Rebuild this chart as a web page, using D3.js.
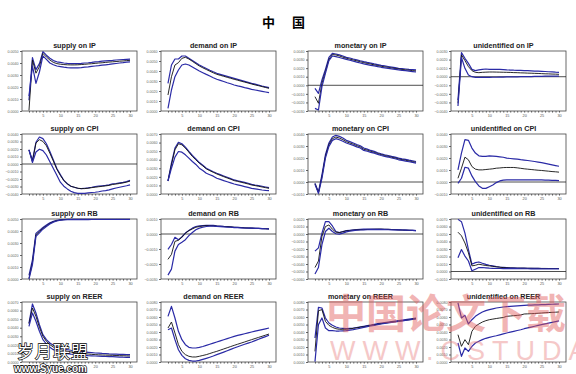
<!DOCTYPE html>
<html>
<head>
<meta charset="utf-8">
<script src="https://cdn.jsdelivr.net/npm/d3@7"></script>
<style>
  body { margin: 0; background: #fff; }
  svg { display: block; font-family: "Liberation Sans", Arial, sans-serif; }
</style>
</head>
<body>
<svg id="chart" width="576" height="374"></svg>
<script>
const periods = [1,2,3,4,5,6,7,8,9,10,11,12,13,14,15,16,17,18,19,20,21,22,23,24,25,26,27,28,29,30];
const xTickLabels = [5, 10, 15, 20, 25, 30];

const titles = [
  "supply on IP", "demand on IP", "monetary on IP", "unidentified on IP",
  "supply on CPI", "demand on CPI", "monetary on CPI", "unidentified on CPI",
  "supply on RB", "demand on RB", "monetary on RB", "unidentified on RB",
  "supply on REER", "demand on REER", "monetary on REER", "unidentified on REER"
];
// y range of each panel (response units, x10^-3) and whether it has a zero line
const yDomains = [
  [0, 5], [0, 6], [-3, 4], [-4, 3],
  [-4, 4], [0, 7], [-1, 4], [-1, 4],
  [0, 5], [-3, 1], [-6, 2], [-1, 7],
  [0, 7], [0, 8], [0, 8], [0, 8]
];
const zeroLine = [
  false, false, true, true,
  true, false, true, true,
  false, true, true, true,
  false, false, false, false
];

// impulse responses: upper band, point estimate, lower band
const ipSupplyHi  = [0.9,4.45,3.45,3.95,4.95,4.65,4.4,4.2,4.1,4.05,4.0,3.97,3.95,3.95,3.95,3.97,4.0,4.02,4.05,4.1,4.12,4.15,4.18,4.2,4.22,4.25,4.27,4.29,4.31,4.33];
const ipSupplyMid = [0.05,4.25,3.15,3.7,4.8,4.5,4.25,4.05,3.95,3.9,3.87,3.85,3.84,3.84,3.85,3.87,3.89,3.92,3.94,3.97,4.0,4.02,4.05,4.08,4.1,4.12,4.15,4.17,4.2,4.22];
const ipSupplyLo  = [1.25,3.75,2.3,3.25,4.6,4.3,4.0,3.85,3.75,3.7,3.65,3.62,3.6,3.6,3.6,3.62,3.65,3.68,3.72,3.75,3.78,3.82,3.85,3.88,3.92,3.96,4.0,4.03,4.07,4.1];

const ipDemandHi  = [2.77,4.6,5.2,5.2,5.5,5.5,5.27,5.05,4.82,4.6,4.42,4.25,4.08,3.92,3.77,3.67,3.57,3.47,3.37,3.27,3.17,3.07,2.97,2.87,2.77,2.68,2.59,2.5,2.42,2.33];
const ipDemandMid = [1.6,3.43,4.6,4.83,5.27,5.37,5.2,4.97,4.73,4.5,4.32,4.15,3.98,3.82,3.67,3.57,3.47,3.37,3.27,3.17,3.08,2.98,2.89,2.8,2.7,2.61,2.53,2.44,2.35,2.27];
const ipDemandLo  = [0.27,2.1,3.43,4.1,4.6,4.7,4.6,4.4,4.2,4.0,3.83,3.66,3.5,3.33,3.17,3.06,2.95,2.83,2.72,2.6,2.51,2.43,2.34,2.26,2.17,2.1,2.03,1.97,1.9,1.83];

const ipMonetaryHi  = [-0.35,-0.94,0.62,1.86,3.26,3.73,3.65,3.54,3.42,3.26,3.18,3.07,2.97,2.86,2.76,2.67,2.59,2.5,2.42,2.33,2.26,2.19,2.12,2.05,1.98,1.94,1.9,1.86,1.83,1.79];
const ipMonetaryMid = [-1.33,-2.1,0.23,1.59,3.03,3.58,3.54,3.42,3.28,3.15,3.05,2.95,2.85,2.74,2.64,2.55,2.47,2.38,2.3,2.21,2.15,2.09,2.02,1.96,1.9,1.85,1.8,1.76,1.71,1.67];
const ipMonetaryLo  = [-2.69,-2.88,-0.16,1.4,2.88,3.42,3.34,3.24,3.13,3.03,2.92,2.81,2.7,2.6,2.49,2.41,2.33,2.26,2.18,2.1,2.04,1.98,1.91,1.85,1.79,1.74,1.7,1.65,1.6,1.55];

const ipOtherHi  = [-2.72,2.81,2.15,1.56,0.86,0.71,0.79,0.86,0.9,0.86,0.86,0.86,0.85,0.83,0.79,0.78,0.76,0.75,0.73,0.71,0.7,0.68,0.66,0.65,0.63,0.61,0.58,0.56,0.53,0.51];
const ipOtherMid = [-3.1,2.54,1.88,1.18,0.71,0.51,0.47,0.51,0.53,0.55,0.55,0.54,0.53,0.52,0.51,0.5,0.48,0.47,0.45,0.44,0.42,0.41,0.39,0.38,0.36,0.34,0.33,0.31,0.3,0.28];
const ipOtherLo  = [-3.42,2.26,0.98,0.2,0.0,-0.07,-0.07,-0.07,-0.07,-0.07,-0.06,-0.06,-0.05,-0.04,-0.03,-0.02,-0.02,-0.01,0.0,0.0,0.01,0.02,0.03,0.04,0.05,0.06,0.06,0.07,0.07,0.08];

const cpiSupplyHi  = [1.88,0.5,2.9,3.6,3.38,2.7,1.66,0.52,-0.61,-1.42,-2.19,-2.64,-2.96,-3.1,-3.23,-3.28,-3.23,-3.18,-3.1,-3.0,-2.95,-2.9,-2.85,-2.78,-2.64,-2.6,-2.52,-2.45,-2.35,-2.19];
const cpiSupplyMid = [1.88,0.3,2.79,3.24,3.01,2.43,1.43,0.39,-0.7,-1.51,-2.19,-2.64,-2.96,-3.1,-3.23,-3.28,-3.28,-3.23,-3.15,-3.1,-3.03,-2.98,-2.92,-2.85,-2.73,-2.67,-2.6,-2.52,-2.42,-2.28];
const cpiSupplyLo  = [1.88,0.2,1.6,1.97,1.79,1.2,0.3,-0.61,-1.51,-2.42,-2.96,-3.32,-3.64,-3.82,-3.91,-3.91,-3.91,-3.85,-3.8,-3.77,-3.7,-3.6,-3.55,-3.45,-3.32,-3.2,-3.1,-3.0,-2.9,-2.78];

const cpiDemandHi  = [1.52,3.59,5.35,6.02,5.86,5.47,4.96,4.49,4.1,3.67,3.35,3.0,2.8,2.6,2.42,2.26,2.1,1.95,1.8,1.64,1.55,1.45,1.35,1.25,1.13,1.05,0.98,0.9,0.82,0.74];
const cpiDemandMid = [1.52,3.4,5.16,5.86,5.74,5.35,4.88,4.38,3.98,3.59,3.28,2.93,2.72,2.53,2.34,2.18,2.02,1.87,1.72,1.56,1.47,1.37,1.27,1.17,1.05,0.98,0.9,0.82,0.74,0.66];
const cpiDemandLo  = [1.52,3.01,4.3,4.96,4.88,4.57,4.18,3.79,3.45,3.01,2.75,2.42,2.25,2.08,1.84,1.7,1.56,1.43,1.3,1.17,1.07,0.97,0.87,0.77,0.66,0.6,0.53,0.47,0.42,0.39];

const cpiMonetaryHi  = [-0.11,-0.83,0.59,2.27,3.25,3.75,3.89,3.8,3.66,3.47,3.36,3.25,3.13,3.02,2.83,2.74,2.63,2.55,2.44,2.35,2.27,2.21,2.13,2.07,1.99,1.93,1.88,1.82,1.77,1.71];
const cpiMonetaryMid = [-0.15,-0.9,0.45,2.13,3.11,3.61,3.75,3.66,3.53,3.36,3.25,3.15,3.03,2.92,2.73,2.65,2.55,2.47,2.37,2.28,2.2,2.14,2.06,2.0,1.92,1.86,1.81,1.75,1.7,1.64];
const cpiMonetaryLo  = [-0.2,-0.95,0.31,1.99,2.97,3.47,3.61,3.52,3.4,3.25,3.15,3.05,2.93,2.83,2.63,2.56,2.47,2.4,2.3,2.21,2.14,2.08,2.0,1.94,1.85,1.8,1.74,1.69,1.63,1.57];

const cpiOtherHi  = [1.01,2.41,3.53,3.47,2.83,2.41,2.18,2.13,2.13,2.18,2.16,2.13,2.1,2.06,1.99,1.96,1.93,1.9,1.86,1.83,1.79,1.75,1.71,1.66,1.61,1.55,1.49,1.43,1.37,1.31];
const cpiOtherMid = [0.31,1.15,2.07,1.85,1.29,1.07,1.01,1.01,1.04,1.07,1.1,1.15,1.17,1.2,1.21,1.21,1.21,1.18,1.14,1.1,1.07,1.04,1.01,0.98,0.96,0.93,0.9,0.87,0.85,0.82];
const cpiOtherLo  = [-0.11,0.31,1.23,1.15,0.51,0.03,-0.33,-0.53,-0.53,-0.39,-0.25,-0.05,0.09,0.15,0.17,0.17,0.17,0.17,0.17,0.17,0.17,0.17,0.17,0.17,0.17,0.16,0.15,0.14,0.13,0.12];

const rbSupplyHi  = [0.3,1.6,3.8,4.05,4.3,4.5,4.68,4.8,4.88,4.93,4.96,4.98,4.98,4.98,4.98,4.98,4.98,4.98,4.98,4.98,4.98,4.98,4.98,4.98,4.98,4.98,4.98,4.98,4.98,4.98];
const rbSupplyMid = [0.05,1.37,3.69,3.96,4.23,4.43,4.64,4.78,4.86,4.92,4.95,4.97,4.97,4.97,4.97,4.97,4.97,4.97,4.97,4.97,4.97,4.97,4.97,4.97,4.97,4.97,4.97,4.97,4.97,4.97];
const rbSupplyLo  = [0.0,1.2,3.55,3.85,4.15,4.37,4.58,4.74,4.83,4.9,4.93,4.95,4.95,4.95,4.95,4.95,4.95,4.95,4.96,4.96,4.96,4.96,4.96,4.96,4.96,4.96,4.96,4.96,4.96,4.96];

const rbDemandHi  = [-1.03,-0.7,-0.22,-0.38,-0.2,0.06,0.23,0.39,0.5,0.54,0.56,0.58,0.58,0.57,0.54,0.53,0.51,0.5,0.48,0.45,0.44,0.43,0.41,0.4,0.39,0.38,0.37,0.36,0.35,0.34];
const rbDemandMid = [-1.69,-1.36,-0.49,-0.42,-0.2,0.06,0.23,0.34,0.45,0.5,0.53,0.56,0.55,0.54,0.52,0.51,0.5,0.48,0.47,0.45,0.44,0.43,0.41,0.4,0.39,0.38,0.37,0.36,0.35,0.34];
const rbDemandLo  = [-2.74,-2.34,-1.14,-0.7,-0.55,-0.38,-0.11,0.1,0.28,0.39,0.45,0.5,0.52,0.52,0.5,0.49,0.48,0.46,0.45,0.43,0.42,0.41,0.4,0.39,0.39,0.38,0.37,0.36,0.35,0.34];

const rbMonetaryHi  = [-2.29,-1.85,0.11,1.64,1.64,1.07,0.33,0.2,0.33,0.46,0.5,0.55,0.58,0.61,0.64,0.64,0.64,0.64,0.64,0.64,0.63,0.62,0.6,0.58,0.55,0.53,0.51,0.5,0.48,0.46];
const rbMonetaryMid = [-4.47,-3.6,-0.32,0.99,1.21,0.64,0.24,0.2,0.29,0.42,0.47,0.51,0.55,0.57,0.59,0.61,0.62,0.63,0.64,0.64,0.63,0.62,0.6,0.58,0.55,0.53,0.51,0.5,0.48,0.46];
const rbMonetaryLo  = [-5.34,-4.47,-1.41,0.33,0.77,0.33,0.03,-0.02,0.11,0.29,0.38,0.46,0.5,0.53,0.55,0.57,0.58,0.59,0.6,0.59,0.58,0.57,0.56,0.55,0.55,0.53,0.51,0.5,0.48,0.46];

const rbOtherHi  = [6.95,6.64,5.11,2.93,0.97,1.18,1.27,1.1,0.95,0.83,0.75,0.66,0.6,0.56,0.53,0.5,0.48,0.46,0.45,0.44,0.43,0.42,0.41,0.41,0.4,0.4,0.4,0.4,0.4,0.4];
const rbOtherMid = [5.24,4.76,3.8,2.49,0.75,0.83,0.97,0.88,0.8,0.75,0.68,0.62,0.57,0.52,0.48,0.46,0.45,0.44,0.44,0.44,0.43,0.43,0.42,0.42,0.41,0.41,0.4,0.4,0.4,0.4];
const rbOtherLo  = [1.84,2.93,2.06,1.4,0.09,0.31,0.53,0.53,0.48,0.44,0.42,0.4,0.4,0.39,0.39,0.38,0.38,0.38,0.37,0.37,0.37,0.36,0.36,0.36,0.36,0.35,0.35,0.35,0.35,0.35];

const reerSupplyHi  = [4.55,6.77,5.72,4.36,3.19,2.61,2.22,1.95,1.78,1.63,1.53,1.44,1.37,1.31,1.25,1.21,1.17,1.13,1.09,1.05,1.03,1.0,0.98,0.95,0.93,0.92,0.9,0.89,0.87,0.86];
const reerSupplyMid = [4.44,6.3,5.33,4.05,3.0,2.41,2.02,1.75,1.58,1.44,1.34,1.25,1.18,1.11,1.05,1.01,0.97,0.93,0.89,0.86,0.84,0.82,0.8,0.79,0.78,0.76,0.74,0.73,0.71,0.7];
const reerSupplyLo  = [4.16,5.72,4.75,3.58,2.61,2.1,1.71,1.44,1.3,1.17,1.07,0.97,0.92,0.88,0.86,0.82,0.78,0.74,0.72,0.7,0.68,0.66,0.64,0.63,0.62,0.6,0.58,0.56,0.55,0.54];

const reerDemandHi  = [6.09,7.42,5.87,4.09,2.98,2.31,1.96,1.87,1.87,1.96,2.07,2.22,2.37,2.52,2.67,2.82,2.97,3.12,3.27,3.42,3.54,3.66,3.77,3.89,4.0,4.11,4.21,4.32,4.42,4.53];
const reerDemandMid = [4.53,5.33,3.87,2.31,1.42,0.98,0.76,0.67,0.67,0.76,0.87,0.98,1.13,1.28,1.42,1.58,1.74,1.9,2.06,2.22,2.37,2.52,2.67,2.83,2.98,3.13,3.28,3.43,3.58,3.73];
const reerDemandLo  = [4.31,4.53,2.98,1.64,0.89,0.44,0.22,0.13,0.13,0.22,0.35,0.49,0.64,0.8,0.98,1.15,1.32,1.5,1.68,1.87,2.04,2.2,2.36,2.52,2.67,2.85,3.03,3.21,3.38,3.56];

const reerMonetaryHi  = [3.2,7.29,7.2,5.87,5.2,4.89,4.67,4.53,4.48,4.44,4.48,4.53,4.6,4.68,4.76,4.85,4.93,5.02,5.11,5.2,5.26,5.32,5.39,5.45,5.51,5.58,5.65,5.72,5.8,5.87];
const reerMonetaryMid = [1.42,6.84,6.98,5.42,4.89,4.62,4.44,4.36,4.36,4.36,4.42,4.49,4.56,4.64,4.71,4.79,4.87,4.95,5.03,5.11,5.18,5.25,5.32,5.39,5.42,5.49,5.56,5.63,5.7,5.78];
const reerMonetaryLo  = [0.05,4.98,5.87,4.53,4.18,4.18,4.13,4.13,4.15,4.18,4.24,4.31,4.4,4.5,4.62,4.71,4.8,4.89,4.98,5.07,5.15,5.22,5.29,5.36,5.42,5.48,5.55,5.61,5.67,5.73];

const reerOtherHi  = [7.87,5.87,6.22,5.07,5.64,6.09,6.4,6.67,6.85,6.98,7.09,7.2,7.27,7.33,7.38,7.42,7.45,7.49,7.52,7.56,7.58,7.59,7.61,7.62,7.64,7.66,7.68,7.7,7.72,7.73];
const reerOtherMid = [3.64,2.09,2.98,2.31,4.09,4.76,5.07,5.33,5.51,5.64,5.72,5.8,5.87,5.93,6.09,6.13,6.18,6.22,6.27,6.4,6.42,6.44,6.47,6.5,6.53,6.57,6.6,6.62,6.64,6.67];
const reerOtherLo  = [2.53,0.76,1.87,1.42,2.09,2.53,2.76,2.98,3.16,3.29,3.4,3.5,3.62,3.74,3.87,3.98,4.09,4.2,4.3,4.44,4.55,4.66,4.77,4.88,4.98,5.08,5.18,5.28,5.38,5.48];

const bands = [
  [ipSupplyHi, ipSupplyMid, ipSupplyLo], [ipDemandHi, ipDemandMid, ipDemandLo],
  [ipMonetaryHi, ipMonetaryMid, ipMonetaryLo], [ipOtherHi, ipOtherMid, ipOtherLo],
  [cpiSupplyHi, cpiSupplyMid, cpiSupplyLo], [cpiDemandHi, cpiDemandMid, cpiDemandLo],
  [cpiMonetaryHi, cpiMonetaryMid, cpiMonetaryLo], [cpiOtherHi, cpiOtherMid, cpiOtherLo],
  [rbSupplyHi, rbSupplyMid, rbSupplyLo], [rbDemandHi, rbDemandMid, rbDemandLo],
  [rbMonetaryHi, rbMonetaryMid, rbMonetaryLo], [rbOtherHi, rbOtherMid, rbOtherLo],
  [reerSupplyHi, reerSupplyMid, reerSupplyLo], [reerDemandHi, reerDemandMid, reerDemandLo],
  [reerMonetaryHi, reerMonetaryMid, reerMonetaryLo], [reerOtherHi, reerOtherMid, reerOtherLo]
];

const colX = [22, 161, 308, 451];
const rowY = [51, 134, 219, 302];
const plotW = 115, plotH = 60;
const bandColor = "#2a2aa6", midColor = "#111";

const svg = d3.select("#chart");

svg.append("text")
  .attr("x", 262).attr("y", 27)
  .style("font-family", "'Noto Sans CJK SC', sans-serif")
  .style("font-weight", "bold")
  .style("font-size", "13px")
  .style("letter-spacing", "17px")
  .text("中国");

titles.forEach((title, i) => {
  const left = colX[i % 4], top = rowY[Math.floor(i / 4)];
  const x = d3.scaleLinear().domain([-1, 32]).range([left, left + plotW]);
  const y = d3.scaleLinear().domain(yDomains[i]).range([top + plotH, top]);
  const g = svg.append("g");

  const yTicks = d3.range(yDomains[i][0], yDomains[i][1] + 0.001, 1);
  g.append("g")
    .attr("transform", `translate(${left},0)`)
    .call(d3.axisLeft(y).tickValues(yTicks).tickSize(2).tickPadding(1.5)
      .tickFormat(t => d3.format(".4f")(t / 1000)))
    .call(a => a.select(".domain").remove())
    .call(a => a.selectAll("line").attr("stroke", "#666"))
    .call(a => a.selectAll("text").style("font-size", "3.6px").attr("fill", "#666"));

  g.append("g")
    .attr("transform", `translate(0,${top + plotH})`)
    .call(d3.axisBottom(x).tickValues(periods).tickSize(1.6).tickPadding(1.5)
      .tickFormat(d => xTickLabels.includes(d) ? d : ""))
    .call(a => a.select(".domain").remove())
    .call(a => a.selectAll("line").attr("stroke", "#666"))
    .call(a => a.selectAll("text").style("font-size", "3.8px").attr("fill", "#555"));

  g.append("rect")
    .attr("x", left).attr("y", top)
    .attr("width", plotW).attr("height", plotH)
    .attr("fill", "none").attr("stroke", "#444").attr("stroke-width", 0.8);

  if (zeroLine[i]) {
    g.append("line")
      .attr("x1", left).attr("x2", left + plotW)
      .attr("y1", y(0)).attr("y2", y(0))
      .attr("stroke", "#222").attr("stroke-width", 0.8);
  }

  const line = d3.line().x((d, k) => x(periods[k])).y(d => y(d));
  bands[i].forEach((series, s) => {
    g.append("path")
      .datum(series)
      .attr("d", line)
      .attr("fill", "none")
      .attr("stroke", s === 1 ? midColor : bandColor)
      .attr("stroke-width", s === 1 ? 0.9 : 1.2)
      .attr("stroke-linejoin", "round");
  });

  g.append("text")
    .attr("x", left + plotW / 2 - 5).attr("y", top - 3)
    .attr("text-anchor", "middle")
    .style("font-size", "7.2px")
    .style("font-weight", "bold")
    .attr("fill", "#222")
    .text(title);
});

// watermarks on the scanned page
svg.append("text")
  .attr("x", 326).attr("y", 328)
  .style("font-family", "'Noto Sans CJK SC', sans-serif")
  .style("font-weight", "bold")
  .style("font-size", "40px")
  .attr("fill", "#e25a5a").attr("opacity", 0.45)
  .text("中国论文下载");

svg.append("text")
  .attr("x", 330).attr("y", 360)
  .style("font-size", "27px")
  .style("letter-spacing", "7px")
  .attr("fill", "#e87878").attr("opacity", 0.4)
  .text("WWW.CSTUDA.COM");

svg.append("text")
  .attr("x", 17).attr("y", 358)
  .style("font-family", "'Noto Sans CJK SC', sans-serif")
  .style("font-size", "17px")
  .style("letter-spacing", "1px")
  .attr("fill", "#fff").attr("stroke", "#000").attr("stroke-width", 1.3)
  .attr("paint-order", "stroke")
  .text("岁月联盟");

svg.append("text")
  .attr("x", 14).attr("y", 372)
  .style("font-size", "10px")
  .style("font-weight", "bold")
  .attr("fill", "#fff").attr("stroke", "#000").attr("stroke-width", 1.4)
  .attr("paint-order", "stroke")
  .text("www.Syue.com");
</script>
</body>
</html>
